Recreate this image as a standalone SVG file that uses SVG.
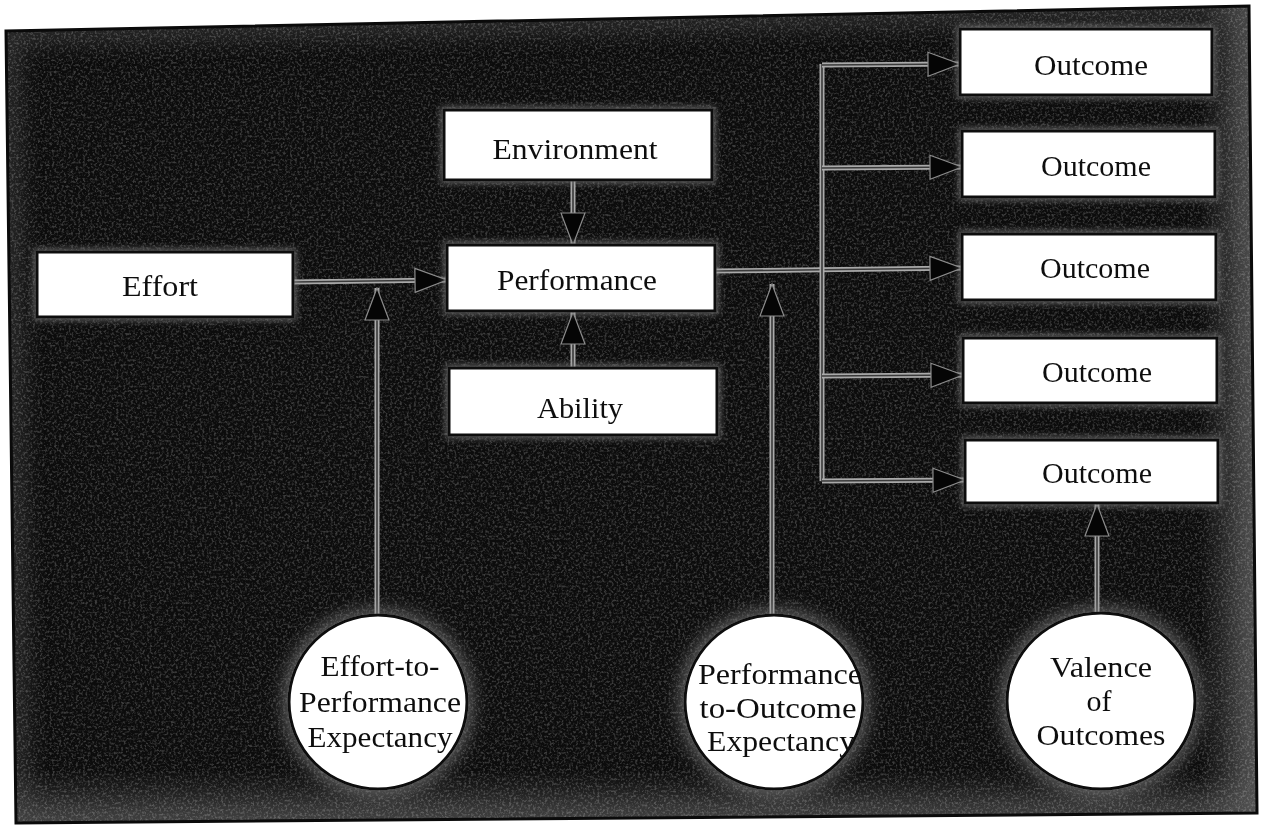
<svg xmlns="http://www.w3.org/2000/svg" width="1267" height="826" viewBox="0 0 1267 826">
  <defs>
    <style>
      .box { fill: #ffffff; stroke: #0a0a0a; stroke-width: 3; }
      .oval { fill: #ffffff; stroke: #0a0a0a; stroke-width: 3; }
      .lbl { font-family: "Liberation Serif", "Times New Roman", serif; font-size: 30px; fill: #111; text-anchor: middle; }
      .halo { fill: none; stroke: #a9a9a9; stroke-width: 5; stroke-linecap: butt; }
      .core { fill: none; stroke: #3a3a3a; stroke-width: 1.6; }
      .arrow { marker-end: url(#head); }
    </style>
    <!-- solid arrowhead with a faint pale rim -->
    <marker id="head" viewBox="0 0 34 26" refX="33" refY="13" markerWidth="34" markerHeight="26" markerUnits="userSpaceOnUse" orient="auto">
      <path d="M1,1 L33,13 L1,25 Z" fill="#050505" stroke="#8c8c8c" stroke-width="1.2" stroke-linejoin="miter"/>
    </marker>
    <clipPath id="panelClip">
      <polygon points="6,31 1249,6 1257,813 16,823"/>
    </clipPath>
    <!-- speckle for the dark printed panel -->
    <filter id="grain" x="0" y="0" width="100%" height="100%">
      <feTurbulence type="fractalNoise" baseFrequency="0.42" numOctaves="3" seed="11" result="n"/>
      <feColorMatrix in="n" type="matrix" values="0 0 0 0 1  0 0 0 0 1  0 0 0 0 1  0 0 0 -3.2 1.75"/>
    </filter>
    <filter id="soft" x="-20%" y="-20%" width="140%" height="140%">
      <feGaussianBlur stdDeviation="12"/>
    </filter>
    <!-- pale fringe round the white shapes -->
    <filter id="glow" x="-15%" y="-30%" width="130%" height="160%">
      <feMorphology in="SourceAlpha" operator="dilate" radius="2" result="d"/>
      <feGaussianBlur in="d" stdDeviation="3" result="b"/>
      <feFlood flood-color="#8a8a8a" flood-opacity="0.6"/>
      <feComposite in2="b" operator="in" result="g"/>
      <feMerge><feMergeNode in="g"/><feMergeNode in="SourceGraphic"/></feMerge>
    </filter>
    <filter id="glowWide" x="-30%" y="-30%" width="160%" height="160%">
      <feMorphology in="SourceAlpha" operator="dilate" radius="3" result="d"/>
      <feGaussianBlur in="d" stdDeviation="9" result="b"/>
      <feFlood flood-color="#909090" flood-opacity="0.65"/>
      <feComposite in2="b" operator="in" result="g"/>
      <feMerge><feMergeNode in="g"/><feMergeNode in="SourceGraphic"/></feMerge>
    </filter>
    <linearGradient id="edgeR" x1="0" y1="0" x2="1" y2="0">
      <stop offset="0" stop-color="#666" stop-opacity="0"/>
      <stop offset="1" stop-color="#7a7a7a" stop-opacity="0.8"/>
    </linearGradient>
    <linearGradient id="edgeB" x1="0" y1="0" x2="0" y2="1">
      <stop offset="0" stop-color="#666" stop-opacity="0"/>
      <stop offset="1" stop-color="#6a6a6a" stop-opacity="0.55"/>
    </linearGradient>
  </defs>

  <rect width="1267" height="826" fill="#ffffff"/>

  <!-- panel -->
  <g id="panel">
    <polygon points="6,31 1249,6 1257,813 16,823" fill="#0c0c0c"/>
    <g clip-path="url(#panelClip)">
      <rect x="1200" y="0" width="67" height="826" fill="url(#edgeR)"/>
      <rect x="0" y="770" width="1267" height="56" fill="url(#edgeB)"/>
      <polygon points="6,31 1249,6 1257,813 16,823" fill="none" stroke="#4a4a4a" stroke-width="22" filter="url(#soft)" opacity="0.6"/>
      <rect x="0" y="0" width="1267" height="826" filter="url(#grain)" opacity="0.2"/>
    </g>
    <polygon points="6,31 1249,6 1257,813 16,823" fill="none" stroke="#0a0a0a" stroke-width="3"/>
  </g>

  <!-- connector geometry -->
  <g id="connectors">
    <path id="p-effort" d="M293,282 L447,280"/>
    <path id="p-env" d="M573,181 L573,245"/>
    <path id="p-ability" d="M573,367 L573,312"/>
    <path id="p-e2p" d="M377,615 L377,288"/>
    <path id="p-main" d="M716,271 L962,268"/>
    <path id="p-bus" d="M822,64 L822,481"/>
    <path id="p-o1" d="M822,65 L960,64"/>
    <path id="p-o2" d="M822,168 L962,167"/>
    <path id="p-o4" d="M822,376 L963,375"/>
    <path id="p-o5" d="M822,481 L965,480"/>
    <path id="p-p2o" d="M772,615 L772,284"/>
    <path id="p-val" d="M1097,612 L1097,504"/>
  </g>
  <g id="connector-strokes">
    <use href="#p-effort" class="halo"/><use href="#p-effort" class="core arrow"/>
    <use href="#p-env" class="halo"/><use href="#p-env" class="core arrow"/>
    <use href="#p-ability" class="halo"/><use href="#p-ability" class="core arrow"/>
    <use href="#p-e2p" class="halo"/><use href="#p-e2p" class="core arrow"/>
    <use href="#p-main" class="halo"/><use href="#p-main" class="core arrow"/>
    <use href="#p-bus" class="halo"/><use href="#p-bus" class="core"/>
    <use href="#p-o1" class="halo"/><use href="#p-o1" class="core arrow"/>
    <use href="#p-o2" class="halo"/><use href="#p-o2" class="core arrow"/>
    <use href="#p-o4" class="halo"/><use href="#p-o4" class="core arrow"/>
    <use href="#p-o5" class="halo"/><use href="#p-o5" class="core arrow"/>
    <use href="#p-p2o" class="halo"/><use href="#p-p2o" class="core arrow"/>
    <use href="#p-val" class="halo"/><use href="#p-val" class="core arrow"/>
  </g>

  <!-- rectangular nodes -->
  <g id="effort" filter="url(#glow)">
    <rect class="box" x="37" y="252" width="256" height="65"/>
    <text class="lbl" x="160" y="296" textLength="76" lengthAdjust="spacingAndGlyphs">Effort</text>
  </g>
  <g id="environment" filter="url(#glow)">
    <rect class="box" x="444" y="110" width="268" height="70"/>
    <text class="lbl" x="575" y="159" textLength="165" lengthAdjust="spacingAndGlyphs">Environment</text>
  </g>
  <g id="performance" filter="url(#glow)">
    <rect class="box" x="447" y="245" width="268" height="66"/>
    <text class="lbl" x="577" y="290" textLength="160" lengthAdjust="spacingAndGlyphs">Performance</text>
  </g>
  <g id="ability" filter="url(#glow)">
    <rect class="box" x="449" y="368" width="268" height="67"/>
    <text class="lbl" x="580" y="418" textLength="86" lengthAdjust="spacingAndGlyphs">Ability</text>
  </g>
  <g id="outcome-1" filter="url(#glow)">
    <rect class="box" x="960" y="29" width="252" height="66"/>
    <text class="lbl" x="1091" y="75" textLength="114" lengthAdjust="spacingAndGlyphs">Outcome</text>
  </g>
  <g id="outcome-2" filter="url(#glow)">
    <rect class="box" x="962" y="131" width="253" height="66"/>
    <text class="lbl" x="1096" y="176" textLength="110" lengthAdjust="spacingAndGlyphs">Outcome</text>
  </g>
  <g id="outcome-3" filter="url(#glow)">
    <rect class="box" x="962" y="234" width="254" height="66"/>
    <text class="lbl" x="1095" y="278" textLength="110" lengthAdjust="spacingAndGlyphs">Outcome</text>
  </g>
  <g id="outcome-4" filter="url(#glow)">
    <rect class="box" x="963" y="338" width="254" height="65"/>
    <text class="lbl" x="1097" y="382" textLength="110" lengthAdjust="spacingAndGlyphs">Outcome</text>
  </g>
  <g id="outcome-5" filter="url(#glow)">
    <rect class="box" x="965" y="440" width="253" height="63"/>
    <text class="lbl" x="1097" y="483" textLength="110" lengthAdjust="spacingAndGlyphs">Outcome</text>
  </g>

  <!-- oval nodes -->
  <g id="effort-performance-expectancy" filter="url(#glowWide)">
    <ellipse class="oval" cx="378" cy="702" rx="89" ry="87"/>
    <text class="lbl" x="380" y="676" textLength="119" lengthAdjust="spacingAndGlyphs">Effort-to-</text>
    <text class="lbl" x="380" y="712" textLength="162" lengthAdjust="spacingAndGlyphs">Performance</text>
    <text class="lbl" x="380" y="747" textLength="145" lengthAdjust="spacingAndGlyphs">Expectancy</text>
  </g>
  <g id="performance-outcome-expectancy" filter="url(#glowWide)">
    <ellipse class="oval" cx="774" cy="702" rx="89" ry="87"/>
    <text class="lbl" x="780" y="684" textLength="164" lengthAdjust="spacingAndGlyphs">Performance</text>
    <text class="lbl" x="778" y="718" textLength="157" lengthAdjust="spacingAndGlyphs">to-Outcome</text>
    <text class="lbl" x="781" y="751" textLength="148" lengthAdjust="spacingAndGlyphs">Expectancy</text>
  </g>
  <g id="valence-of-outcomes" filter="url(#glowWide)">
    <ellipse class="oval" cx="1101" cy="701" rx="94" ry="88"/>
    <text class="lbl" x="1101" y="677" textLength="102" lengthAdjust="spacingAndGlyphs">Valence</text>
    <text class="lbl" x="1099" y="711">of</text>
    <text class="lbl" x="1101" y="745" textLength="129" lengthAdjust="spacingAndGlyphs">Outcomes</text>
  </g>
</svg>
